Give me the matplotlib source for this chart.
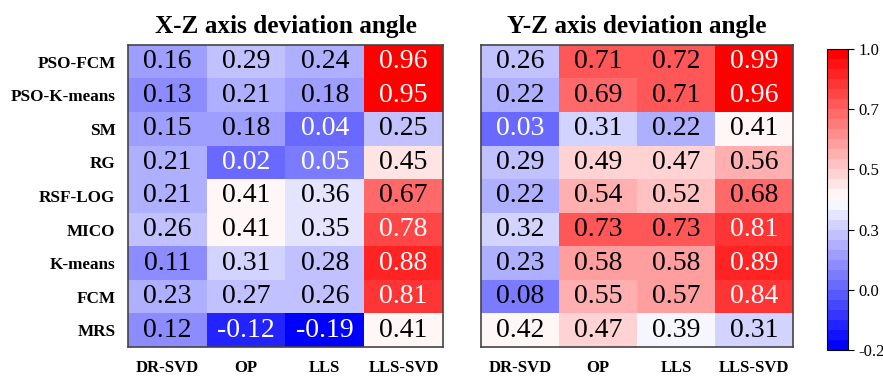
import numpy as np
import matplotlib.pyplot as plt
from matplotlib import colors

plt.rcParams['font.family'] = ['Liberation Serif', 'DejaVu Serif']

methods = ['PSO-FCM', 'PSO-K-means', 'SM', 'RG', 'RSF-LOG', 'MICO', 'K-means', 'FCM', 'MRS']
algos = ['DR-SVD', 'OP', 'LLS', 'LLS-SVD']

xz = np.array([
    [0.16, 0.29, 0.24, 0.96],
    [0.13, 0.21, 0.18, 0.95],
    [0.15, 0.18, 0.04, 0.25],
    [0.21, 0.02, 0.05, 0.45],
    [0.21, 0.41, 0.36, 0.67],
    [0.26, 0.41, 0.35, 0.78],
    [0.11, 0.31, 0.28, 0.88],
    [0.23, 0.27, 0.26, 0.81],
    [0.12, -0.12, -0.19, 0.41],
])
yz = np.array([
    [0.26, 0.71, 0.72, 0.99],
    [0.22, 0.69, 0.71, 0.96],
    [0.03, 0.31, 0.22, 0.41],
    [0.29, 0.49, 0.47, 0.56],
    [0.22, 0.54, 0.52, 0.68],
    [0.32, 0.73, 0.73, 0.81],
    [0.23, 0.58, 0.58, 0.89],
    [0.08, 0.55, 0.57, 0.84],
    [0.42, 0.47, 0.39, 0.31],
])
titles = ['X-Z axis deviation angle', 'Y-Z axis deviation angle']
cbar_ticks = [-0.2, 0.0, 0.3, 0.5, 0.7, 1.0]

# piecewise-linear norm: colorbar ticks are evenly spaced
pos = np.linspace(0, 1, len(cbar_ticks))
norm = colors.FuncNorm((lambda v: np.interp(v, cbar_ticks, pos),
                        lambda p: np.interp(p, pos, cbar_ticks)),
                       vmin=-0.2, vmax=1.0)
cmap = plt.get_cmap('bwr', 30)

fig = plt.figure(figsize=(8.83, 3.77), dpi=100)
W, H = 883, 377
boxes = [(128, 45, 443, 347), (481, 45, 793, 347)]

for data, title, (x0, y0, x1, y1) in zip([xz, yz], titles, boxes):
    ax = fig.add_axes([x0 / W, 1 - y1 / H, (x1 - x0) / W, (y1 - y0) / H])
    im = ax.imshow(data, cmap=cmap, norm=norm, aspect='auto')
    for i in range(data.shape[0]):
        for j in range(data.shape[1]):
            v = data[i, j]
            col = 'white' if (v >= 0.75 or v <= 0.05) else 'black'
            ax.text(j, i, f'{v:.2f}', ha='center', va='center', fontsize=20, color=col)
    ax.set_xticks(range(len(algos)))
    ax.set_xticklabels(algos, fontsize=12, fontweight='bold')
    ax.tick_params(length=0, pad=9)
    if x0 < 200:
        ax.set_yticks(range(len(methods)))
        ax.set_yticklabels(methods, fontsize=12.3, fontweight='bold')
        ax.tick_params(axis='y', pad=9)
    else:
        ax.set_yticks([])
    ax.set_title(title, fontsize=18.2, fontweight='bold', pad=9)
    for s in ax.spines.values():
        s.set_color('#444444')
        s.set_linewidth(1.2)

cax = fig.add_axes([827 / W, 1 - 350 / H, 21 / W, 301 / H])
cb = fig.colorbar(im, cax=cax, ticks=cbar_ticks)
cb.ax.set_yticklabels([f'{t:.1f}' for t in cbar_ticks])
cb.ax.tick_params(labelsize=12, length=4, width=0.8)
cb.outline.set_linewidth(0.8)

fig.savefig('out.png', dpi=100)
